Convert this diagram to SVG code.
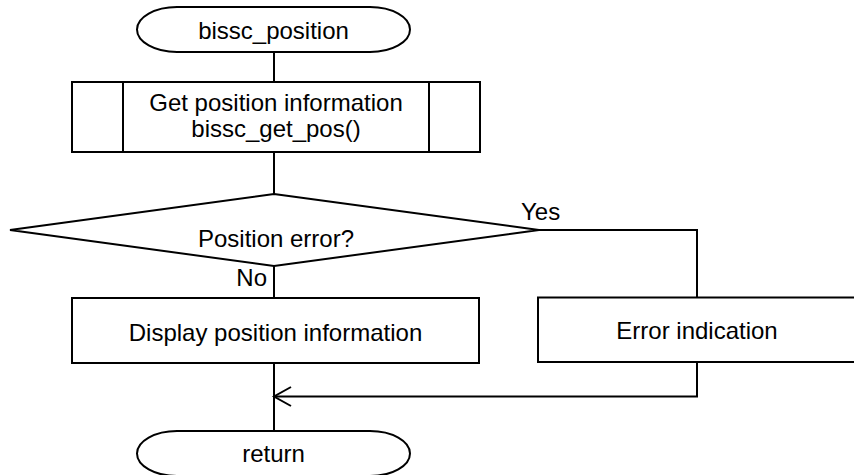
<svg xmlns="http://www.w3.org/2000/svg" width="854" height="475" viewBox="0 0 854 475">
<style>
.s{fill:#fff;stroke:#000;stroke-width:2}
.c{fill:none;stroke:#000;stroke-width:2}
text{font-family:"Liberation Sans",Arial,sans-serif;font-size:24px;fill:#000}
.m{text-anchor:middle}
</style>
<rect width="854" height="475" fill="#fff"/>
<g id="connectors">
<line class="c" x1="274" y1="52" x2="274" y2="82"/>
<line class="c" x1="274" y1="152" x2="274" y2="194"/>
<line class="c" x1="274" y1="266" x2="274" y2="298"/>
<polyline class="c" points="539,230 697,230 697,297.5"/>
<line class="c" x1="274" y1="363" x2="274" y2="431"/>
<polyline class="c" points="697,362 697,396.5 274,396.5"/>
<polyline class="c" points="291,387 274,396.5 291,406"/>
<text x="521" y="220">Yes</text>
<text x="267" y="286" text-anchor="end">No</text>
</g>
<g id="start">
<rect class="s" x="137" y="7" width="273" height="45" rx="40" ry="22.5"/>
<text class="m" x="273.5" y="39">bissc_position</text>
</g>
<g id="getpos">
<rect class="s" x="72" y="82" width="408" height="70"/>
<line class="c" x1="123" y1="82" x2="123" y2="152"/>
<line class="c" x1="429" y1="82" x2="429" y2="152"/>
<text class="m" x="276" y="111">Get position information</text>
<text class="m" x="276" y="137">bissc_get_pos()</text>
</g>
<g id="decision">
<polygon class="s" points="274,194 539,230 274,266 10,230"/>
<text class="m" x="276" y="247">Position error?</text>
</g>
<g id="display">
<rect class="s" x="72" y="298" width="407" height="65"/>
<text class="m" x="275.5" y="341">Display position information</text>
</g>
<g id="error">
<rect class="s" x="538" y="297.5" width="320" height="64.5"/>
<text class="m" x="697" y="339">Error indication</text>
</g>
<g id="return">
<rect class="s" x="137" y="431" width="273" height="45" rx="40" ry="22.5"/>
<text class="m" x="273.5" y="462">return</text>
</g>
</svg>
